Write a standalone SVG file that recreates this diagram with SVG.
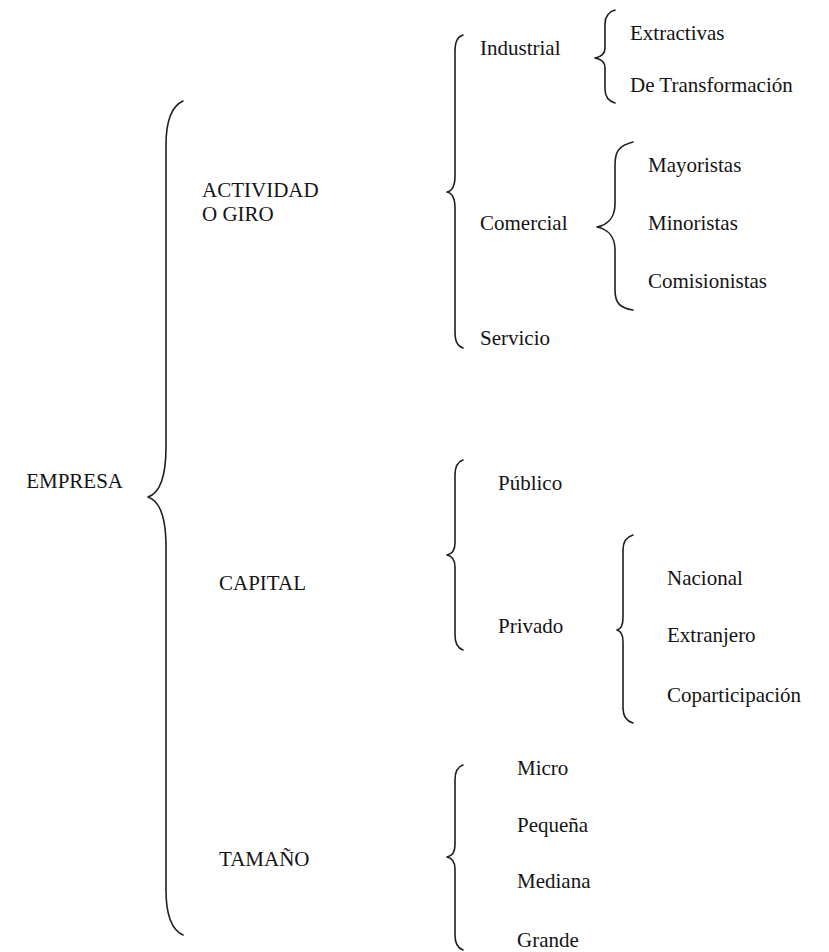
<svg xmlns="http://www.w3.org/2000/svg" width="829" height="952" viewBox="0 0 829 952">
  <style>
    .lbl { font-family: "Liberation Serif", "Times New Roman", serif; font-size: 21px; fill: #141414; }
    .brace { fill: none; stroke: #1e1e1e; stroke-width: 1.6; stroke-linecap: round; stroke-linejoin: round; }
  </style>
  <rect width="829" height="952" fill="#ffffff"/>

  <!-- curly braces joining each level to its children -->
  <g id="connectors">
    <path class="brace" d="M183,101 C172,106 166,120 166,145 L166,447 C166,477 160,493 148,497 C160,501 166,517 166,547 L166,890 C166,915 172,930 183,935"/>
    <path class="brace" d="M463,35 C457,37 455,42 455,52 L455,176 C455,186 452,191 447,192 C452,193 455,198 455,208 L455,331 C455,341 457,346 463,348"/>
    <path class="brace" d="M615,10 C608,12 605,17 605,24 L605,48 C605,54 601,57 595,58 C601,59 605,62 605,68 L605,89 C605,96 608,101 615,103"/>
    <path class="brace" d="M633,142 C618,146 615,152 615,165 L615,204 C615,218 607,225 597,227 C607,229 615,236 615,250 L615,290 C615,303 620,308 633,310"/>
    <path class="brace" d="M463,460 C457,462 455,467 455,475 L455,543 C455,550 452,554 447,555 C452,556 455,560 455,567 L455,635 C455,643 457,648 463,650"/>
    <path class="brace" d="M633,535 C626,537 623,542 623,550 L623,618 C623,625 621,629 617,630 C621,631 623,635 623,642 L623,708 C623,716 626,721 633,723"/>
    <path class="brace" d="M463,765 C457,767 455,772 455,780 L455,845 C455,852 452,856 447,857 C452,858 455,862 455,869 L455,935 C455,943 457,948 463,950"/>
  </g>

  <g id="empresa"><text class="lbl" x="123" y="488" text-anchor="end">EMPRESA</text></g>

  <g id="actividad">
    <text class="lbl" x="202" y="197">ACTIVIDAD</text>
    <text class="lbl" x="202" y="221">O GIRO</text>
  </g>
  <g id="capital"><text class="lbl" x="219" y="590">CAPITAL</text></g>
  <g id="tamano"><text class="lbl" x="219" y="866">TAMAÑO</text></g>

  <g id="industrial"><text class="lbl" x="480" y="55">Industrial</text></g>
  <g id="extractivas"><text class="lbl" x="630" y="40">Extractivas</text></g>
  <g id="transformacion"><text class="lbl" x="630" y="92">De Transformación</text></g>

  <g id="comercial"><text class="lbl" x="480" y="230">Comercial</text></g>
  <g id="mayoristas"><text class="lbl" x="648" y="172">Mayoristas</text></g>
  <g id="minoristas"><text class="lbl" x="648" y="230">Minoristas</text></g>
  <g id="comisionistas"><text class="lbl" x="648" y="288">Comisionistas</text></g>

  <g id="servicio"><text class="lbl" x="480" y="345">Servicio</text></g>

  <g id="publico"><text class="lbl" x="498" y="490">Público</text></g>
  <g id="privado"><text class="lbl" x="498" y="633">Privado</text></g>
  <g id="nacional"><text class="lbl" x="667" y="585">Nacional</text></g>
  <g id="extranjero"><text class="lbl" x="667" y="642">Extranjero</text></g>
  <g id="coparticipacion"><text class="lbl" x="667" y="702">Coparticipación</text></g>

  <g id="micro"><text class="lbl" x="517" y="775">Micro</text></g>
  <g id="pequena"><text class="lbl" x="517" y="832">Pequeña</text></g>
  <g id="mediana"><text class="lbl" x="517" y="888">Mediana</text></g>
  <g id="grande"><text class="lbl" x="517" y="947">Grande</text></g>
</svg>
